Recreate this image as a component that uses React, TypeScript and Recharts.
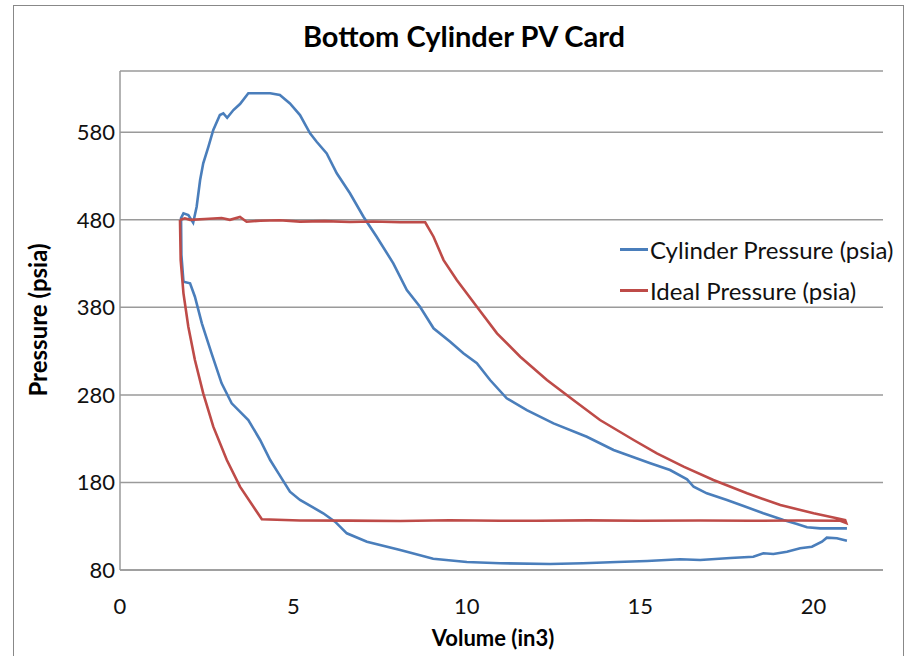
import React from "react";
import { LineChart, Line, XAxis, YAxis, CartesianGrid } from "recharts";

const title = "Bottom Cylinder PV Card";
const xTitle = "Volume (in3)";
const yTitle = "Pressure (psia)";
const cylinderName = "Cylinder Pressure (psia)";
const idealName = "Ideal Pressure (psia)";

const xTicks = [0, 5, 10, 15, 20];
const yTicks = [80, 180, 280, 380, 480, 580];

// Cylinder pressure loop: volume (in3)
const cylVolume = [
  20.96, 20.67, 20.38, 20.24, 19.95, 19.61, 19.23, 18.84, 18.55, 18.26, 17.6, 16.73, 16.15, 15.2, 14.33, 13.35,
  12.4, 10.96, 10.0, 9.03, 8.08, 7.12, 6.54, 6.2, 5.86, 5.19, 4.9, 4.57, 4.33, 4.04, 3.7, 3.22, 2.93, 2.64,
  2.36, 2.16, 2.02, 1.83, 1.77, 1.76, 1.83, 1.97, 2.11, 2.21, 2.31, 2.4, 2.55, 2.69, 2.88, 2.98, 3.09,
  3.27, 3.46, 3.7, 3.94, 4.33, 4.61, 4.9, 5.19, 5.48, 5.67, 5.96, 6.25, 6.63, 7.02, 7.4, 7.88, 8.27, 8.65,
  9.04, 9.52, 9.9, 10.29, 10.67, 11.15, 11.73, 12.5, 13.46, 14.23, 14.71, 15.29, 15.86, 16.35, 16.54, 16.92,
  17.5, 17.98, 18.55, 19.13, 19.52, 19.81, 20.19, 20.96,
];
// Cylinder pressure loop: pressure (psia)
const cylPressure = [
  113.5, 116.2, 116.9, 112.3, 106.6, 104.8, 100.9, 98.3, 99.1, 95.2, 93.7, 91.4, 92.2, 90.3, 89.1, 87.7,
  86.9, 87.7, 89.1, 92.9, 102.8, 112.3, 121.9, 135.2, 144.8, 160, 169.4, 190.4, 205.6, 228.5, 251.3, 270.4,
  293.2, 327.5, 361.8, 392.2, 407.5, 409.3, 440, 482, 487.4, 485.5, 476.7, 495, 525.5, 544.5, 563.5,
  582.6, 599.7, 601.6, 596.6, 605.4, 612.3, 624.5, 624.5, 624.5, 622.5, 613, 599.7, 578.8, 569.2, 555.9,
  533.1, 510.3, 483.5, 460.7, 430.3, 399.8, 380.7, 356.1, 340.8, 327.5, 316.1, 297, 276.1, 262.7, 247.5,
  232.2, 217.1, 210.2, 201.9, 194.2, 183.6, 175.1, 167.6, 160, 153.1, 144.8, 137.1, 132.5, 128.8, 127.6, 127.6,
];

// Ideal pressure loop: volume (in3)
const idealVolume = [
  1.73, 1.87, 2.02, 2.45, 2.93, 3.17, 3.46, 3.65, 4.04, 4.6, 5.19, 5.9, 6.63, 7.3, 8.08, 8.8, 9.04, 9.33,
  9.71, 10.29, 10.87, 11.54, 12.31, 13.07, 13.84, 14.81, 15.48, 16.25, 17.11, 18.08, 19.04, 20.0, 20.67,
  20.91, 20.94, 20.77, 19.5, 18.2, 16.73, 15.0, 13.5, 12.0, 10.96, 9.5, 8.08, 6.6, 5.19, 4.09, 3.46, 3.08,
  2.69, 2.4, 2.16, 1.97, 1.83, 1.75, 1.73,
];
// Ideal pressure loop: pressure (psia)
const idealPressure = [
  479.7, 481.7, 480, 481, 482, 480, 483.2, 477.8, 479, 479.5, 478, 478.5, 477.5, 478, 477.2, 477.2, 460.7,
  434, 411.2, 380.7, 350.3, 323.6, 297, 274.2, 251.3, 228.5, 213.3, 198, 182.8, 167.6, 154.2, 144.8, 139.1,
  137.1, 133.7, 136.3, 136.6, 136.2, 136.5, 136.3, 136.7, 136.2, 136.3, 136.8, 136, 136.4, 136.5, 137.9,
  175.2, 205.6, 243.7, 281.8, 319.8, 357.9, 396, 434, 479.7,
];

const cylinderData = cylVolume.map((v, i) => ({ v, p: cylPressure[i] }));
const idealData = idealVolume.map((v, i) => ({ v, p: idealPressure[i] }));

const BLUE = "#4A7EBB";
const RED = "#BE4B48";
const FONT = "Lato, 'Open Sans', sans-serif";
const GRID = "#9a9a9a";

export default function App() {
  return (
    <div style={{ position: "absolute", left: 0, top: 0, width: 914, height: 656, background: "#fff", overflow: "hidden", fontFamily: FONT }}>
      <div style={{ position: "absolute", left: 13, top: 5, width: 891, height: 700, border: "1.5px solid #888", boxSizing: "border-box" }} />
      <LineChart
        width={914}
        height={656}
        margin={{ top: 71, right: 31, bottom: 46, left: 60 }}
        style={{ position: "absolute", left: 0, top: 0 }}
      >
        <CartesianGrid horizontal vertical={false} stroke={GRID} strokeWidth={1.5} />
        <XAxis
          type="number"
          dataKey="v"
          domain={[0, 22]}
          ticks={xTicks}
          allowDataOverflow
          height={40}
          axisLine={{ stroke: GRID, strokeWidth: 1.5 }}
          tickLine={false}
          tickSize={0}
          tickMargin={28}
          tick={{ fill: "#111", fontSize: 22, fontFamily: FONT }}
        />
        <YAxis
          type="number"
          dataKey="p"
          domain={[80, 650]}
          ticks={yTicks}
          allowDataOverflow
          width={60}
          axisLine={{ stroke: GRID, strokeWidth: 1.5 }}
          tickLine={false}
          tickSize={0}
          tickMargin={5}
          tick={{ fill: "#111", fontSize: 22, fontFamily: FONT }}
        />
        <Line data={cylinderData} dataKey="p" name={cylinderName} stroke={BLUE} strokeWidth={2.6} dot={false} type="linear" isAnimationActive={false} />
        <Line data={idealData} dataKey="p" name={idealName} stroke={RED} strokeWidth={2.6} dot={false} type="linear" isAnimationActive={false} />
      </LineChart>
      <div style={{ position: "absolute", left: 0, width: 928, top: 18, textAlign: "center", fontSize: 29, fontWeight: 700, color: "#000", lineHeight: "36px" }}>
        {title}
      </div>
      <div style={{ position: "absolute", left: 393, width: 200, top: 623, textAlign: "center", fontSize: 22, fontWeight: 700, color: "#000", lineHeight: "30px" }}>
        {xTitle}
      </div>
      <div
        style={{
          position: "absolute",
          left: 38 - 110,
          top: 320 - 15,
          width: 220,
          textAlign: "center",
          fontSize: 24,
          fontWeight: 700,
          color: "#000",
          lineHeight: "30px",
          transform: "rotate(-90deg)",
        }}
      >
        {yTitle}
      </div>
      <div style={{ position: "absolute", left: 620, top: 229, fontSize: 24, color: "#111", lineHeight: "41px" }}>
        <div style={{ display: "flex", alignItems: "center" }}>
          <span style={{ display: "inline-block", width: 28, height: 3, background: BLUE, marginRight: 2 }} />
          <span>{cylinderName}</span>
        </div>
        <div style={{ display: "flex", alignItems: "center" }}>
          <span style={{ display: "inline-block", width: 28, height: 3, background: RED, marginRight: 2 }} />
          <span>{idealName}</span>
        </div>
      </div>
    </div>
  );
}
